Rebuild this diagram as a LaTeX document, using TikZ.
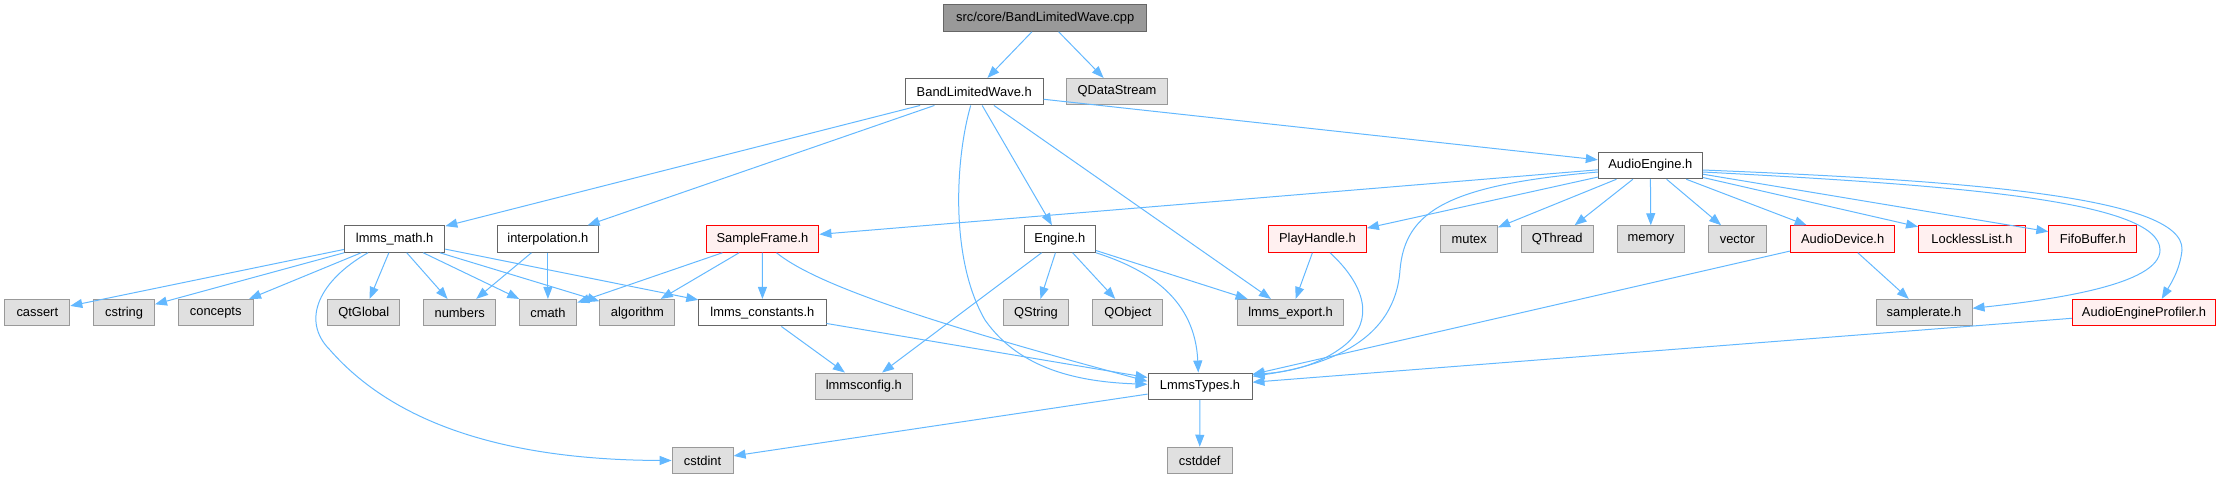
\documentclass[tikz,border=0pt]{standalone}
\usepackage{fontspec}
\setmainfont{Liberation Sans}
\usetikzlibrary{arrows.meta}
\definecolor{edgec}{HTML}{63B8FF}
\definecolor{cdark}{HTML}{666666}
\definecolor{cmid}{HTML}{999999}
\definecolor{clight}{HTML}{E0E0E0}
\definecolor{cpink}{HTML}{FFF0F0}
\definecolor{cred}{HTML}{FF0000}
\begin{document}
\begin{tikzpicture}[x=1pt,y=-1pt,
  box/.style={draw, rectangle, minimum height=26.5pt, inner sep=0pt, line width=1pt, font=\fontsize{12.9}{15}\selectfont},
  whitebox/.style={box, draw=cdark, fill=white},
  graybox/.style={box, draw=cmid, fill=clight},
  redbox/.style={box, draw=cred, fill=cpink},
  rootbox/.style={box, draw=cdark, fill=cmid},
  dep/.style={draw=edgec, line width=1pt, -{Triangle[length=12pt,width=9pt]}}]
\useasboundingbox (0,0) rectangle (2221,478);
% rank 0-2
\node[rootbox, minimum width=202.5pt] (cpp) at (1045.2,18) {src/core/BandLimitedWave.cpp};
\node[whitebox, minimum width=138pt] (blw) at (974.2,91.7) {BandLimitedWave.h};
\node[graybox, minimum width=101pt] (qds) at (1117,91.7) {QDataStream};
\node[whitebox, minimum width=104pt] (ae) at (1650.3,165.5) {AudioEngine.h};
% rank 3
\node[whitebox, minimum width=100.4pt] (math) at (394.6,239) {lmms\_math.h};
\node[whitebox, minimum width=101pt] (interp) at (547.9,239) {interpolation.h};
\node[redbox, minimum width=112.8pt] (sf) at (762.5,239) {SampleFrame.h};
\node[whitebox, minimum width=71pt] (eng) at (1059.9,239) {Engine.h};
\node[redbox, minimum width=98pt] (ph) at (1317.4,239) {PlayHandle.h};
\node[graybox, minimum width=56.7pt] (mutex) at (1469.2,239) {mutex};
\node[graybox, minimum width=71.8pt] (qthread) at (1557.2,239) {QThread};
\node[graybox, minimum width=67.3pt] (memory) at (1650.9,239) {memory};
\node[graybox, minimum width=57.5pt] (vector) at (1737.4,239) {vector};
\node[redbox, minimum width=104.7pt] (adev) at (1842.6,239) {AudioDevice.h};
\node[redbox, minimum width=106.7pt] (lll) at (1971.9,239) {LocklessList.h};
\node[redbox, minimum width=88pt] (fifo) at (2092.8,239) {FifoBuffer.h};
% rank 4
\node[graybox, minimum width=65pt] (cassert) at (37.3,312.7) {cassert};
\node[graybox, minimum width=60.8pt] (cstring) at (124.1,312.7) {cstring};
\node[graybox, minimum width=74.6pt] (concepts) at (215.7,312.7) {concepts};
\node[graybox, minimum width=72.3pt] (qtglobal) at (363.8,312.7) {QtGlobal};
\node[graybox, minimum width=71.7pt] (numbers) at (459.7,312.7) {numbers};
\node[graybox, minimum width=57.8pt] (cmath) at (547.9,312.7) {cmath};
\node[graybox, minimum width=75.1pt] (algorithm) at (637.4,312.7) {algorithm};
\node[whitebox, minimum width=127.2pt] (lc) at (762.4,312.7) {lmms\_constants.h};
\node[graybox, minimum width=65pt] (qstring) at (1036,312.7) {QString};
\node[graybox, minimum width=70pt] (qobject) at (1127.9,312.7) {QObject};
\node[graybox, minimum width=105.6pt] (lexp) at (1290.6,312.7) {lmms\_export.h};
\node[graybox, minimum width=96pt] (sr) at (1924,312.7) {samplerate.h};
\node[redbox, minimum width=143.5pt] (prof) at (2144,312.7) {AudioEngineProfiler.h};
% rank 5
\node[graybox, minimum width=97pt] (lcfg) at (863.8,386.3) {lmmsconfig.h};
\node[whitebox, minimum width=104pt] (lt) at (1200,386.3) {LmmsTypes.h};
% rank 6
\node[graybox, minimum width=61pt] (cstdint) at (702.6,460.5) {cstdint};
\node[graybox, minimum width=65pt] (cstddef) at (1199.7,460.5) {cstddef};

% straight edges
\foreach \a/\b in {cpp/blw, cpp/qds, blw/math, blw/interp, blw/eng, blw/lexp, blw/ae,
  ae/sf, ae/ph, ae/mutex, ae/qthread, ae/memory, ae/vector, ae/adev, ae/lll, ae/fifo,
  math/cassert, math/cstring, math/concepts, math/qtglobal, math/numbers, math/cmath, math/algorithm, math/lc,
  interp/numbers, interp/cmath, sf/cmath, sf/algorithm, sf/lc, lc/lcfg, lc/lt,
  eng/qstring, eng/qobject, eng/lexp, eng/lcfg, ph/lexp, adev/sr, adev/lt, prof/lt,
  lt/cstdint, lt/cstddef}
  \draw[dep] (\a) -- (\b);

% curved edges
\draw[dep] ([xshift=-3.5pt]blw.south) .. controls (955,160) and (950,260) .. (985,320)
  .. controls (1020,370) and (1080,382) .. ([yshift=2pt]lt.west);
\draw[dep] ([xshift=14pt]sf.south) .. controls (810,280) and (900,315) .. ([yshift=5pt]lt.west);
\draw[dep] (eng.south east) .. controls (1150,270) and (1195,300) .. ([xshift=-1.7pt]lt.north);
\draw[dep] ([yshift=-6.5pt]ae.west) .. controls (1450,185) and (1405,210) .. (1400,270)
  .. controls (1395,340) and (1330,365) .. ([yshift=10pt]lt.east);
\draw[dep] ([xshift=12.6pt]ph.south) .. controls (1365,285) and (1375,320) .. (1345,345)
  .. controls (1320,365) and (1290,372) .. ([yshift=12pt]lt.east);
\draw[dep] ([xshift=-26.6pt]math.south) .. controls (320,280) and (300,320) .. (330,350)
  .. controls (400,430) and (520,460) .. (cstdint.west);
\draw[dep] ([yshift=-6.5pt]ae.east) .. controls (1950,185) and (2160,200) .. (2160,250)
  .. controls (2160,285) and (2050,300) .. ([yshift=4.4pt]sr.east);
\draw[dep] ([yshift=-4.5pt]ae.east) .. controls (1950,180) and (2185,195) .. (2182,250)
  .. controls (2180,270) and (2170,285) .. ([xshift=17.7pt]prof.north);
\end{tikzpicture}
\end{document}
